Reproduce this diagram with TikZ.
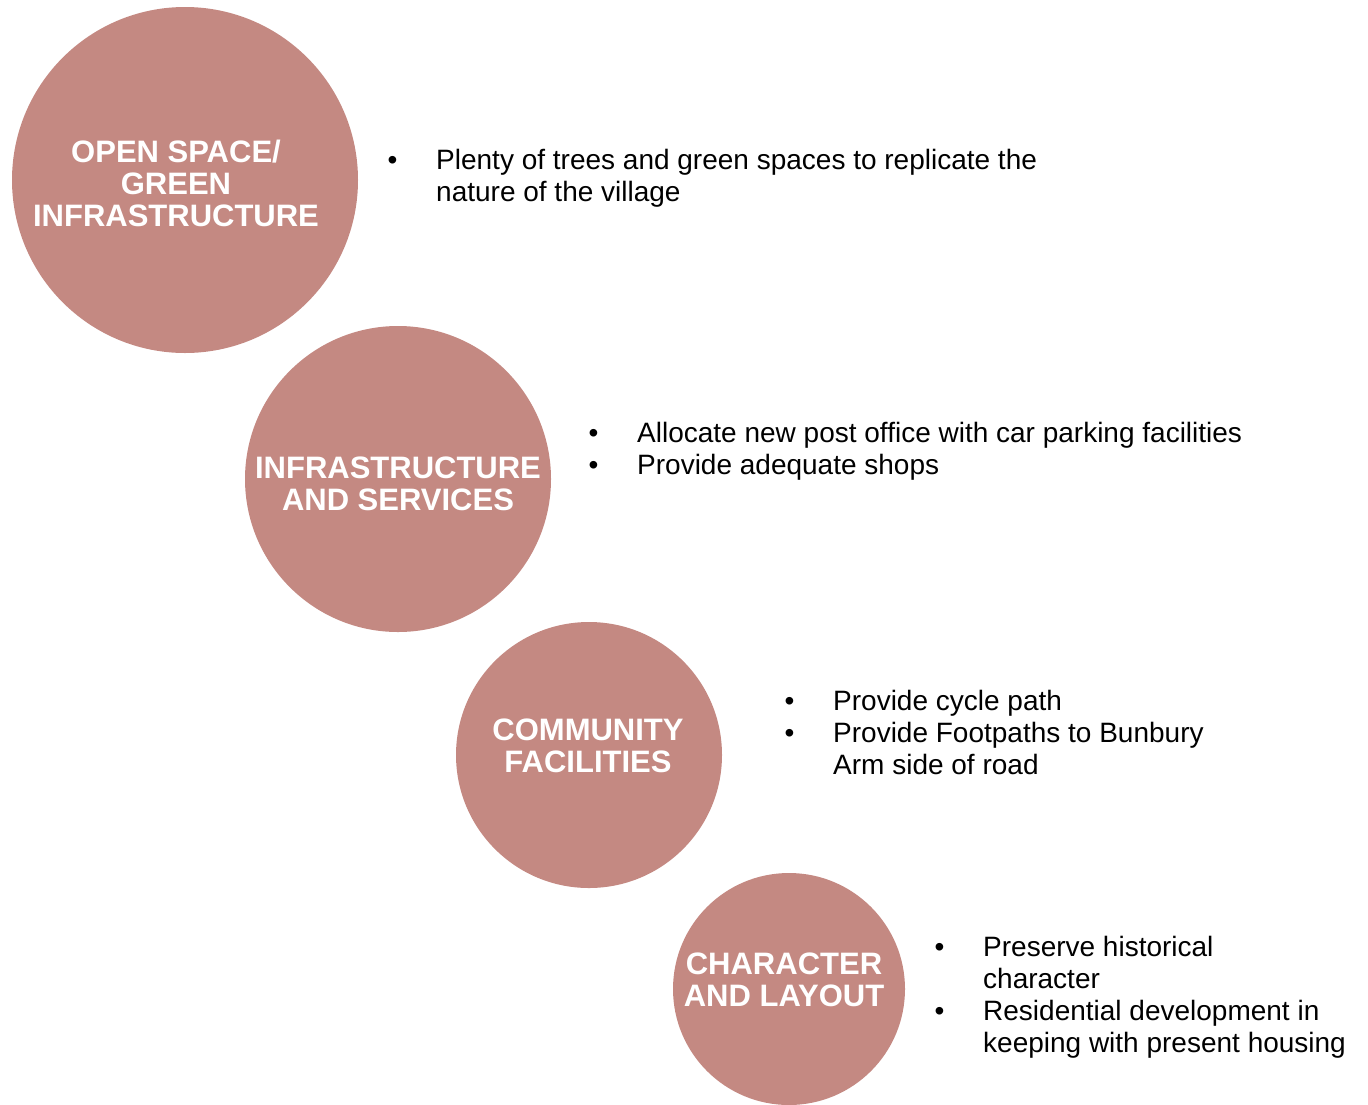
\documentclass[tikz,border=0pt]{standalone}
\usepackage{fontspec}
\setmainfont{Liberation Sans}
\usetikzlibrary{positioning}
\definecolor{discrose}{RGB}{196,137,130}
\newcommand{\bul}{\makebox[48.5pt][l]{\textbullet}}

\begin{document}
\begin{tikzpicture}[x=1pt, y=-1pt,
  disc/.style={circle, fill=discrose, inner sep=0pt},
  disclabel/.style={anchor=base, inner sep=0pt, text=white, font=\fontsize{31}{32}\selectfont\bfseries},
  points/.style={anchor=base west, inner sep=0pt, font=\fontsize{28}{32}\selectfont}]
\useasboundingbox (0,0) rectangle (1368,1104);
% the four discs
\node[disc, minimum size=346pt] (open) at (185,180) {};
\node[disc, minimum size=306pt] (infra) at (398,479) {};
\node[disc, minimum size=266pt] (comm) at (589,755) {};
\node[disc, minimum size=232pt] (char) at (789,989) {};
% disc titles
\node[disclabel] (open-t) at (176,162) {\begin{tabular}[t]{@{}c@{}}OPEN SPACE/\\GREEN\\INFRASTRUCTURE\end{tabular}};
\node[disclabel] (infra-t) at (398,478) {\begin{tabular}[t]{@{}c@{}}INFRASTRUCTURE\\AND SERVICES\end{tabular}};
\node[disclabel] (comm-t) at (588,740) {\begin{tabular}[t]{@{}c@{}}COMMUNITY\\FACILITIES\end{tabular}};
\node[disclabel] (char-t) at (784,974) {\begin{tabular}[t]{@{}c@{}}CHARACTER\\AND LAYOUT\end{tabular}};
% bullet points
\node[points] (open-p) at (387.5,169) {\begin{tabular}[t]{@{}l@{}l@{}}
  \bul & Plenty of trees and green spaces to replicate the\\
       & nature of the village\end{tabular}};
\node[points] (infra-p) at (588.5,442) {\begin{tabular}[t]{@{}l@{}l@{}}
  \bul & Allocate new post office with car parking facilities\\
  \bul & Provide adequate shops\end{tabular}};
\node[points] (comm-p) at (784.5,710) {\begin{tabular}[t]{@{}l@{}l@{}}
  \bul & Provide cycle path\\
  \bul & Provide Footpaths to Bunbury\\
       & Arm side of road\end{tabular}};
\node[points] (char-p) at (934.5,956) {\begin{tabular}[t]{@{}l@{}l@{}}
  \bul & Preserve historical\\
       & character\\
  \bul & Residential development in\\
       & keeping with present housing\end{tabular}};
\end{tikzpicture}
\end{document}
